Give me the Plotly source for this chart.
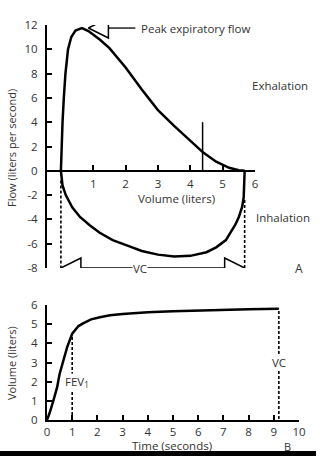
import plotly.graph_objects as go

# ---------------- data ----------------
# Panel A: flow-volume loop
exp_volume = [0, 0.02, 0.05, 0.09, 0.14, 0.22, 0.32, 0.45, 0.65, 0.85, 1.2, 1.5, 2.0, 2.5, 3.0, 3.5, 4.0, 4.4, 4.8, 5.2, 5.5, 5.68]
exp_flow = [0, 2.0, 4.0, 6.0, 8.0, 10.0, 11.0, 11.55, 11.75, 11.5, 10.8, 10.1, 8.5, 6.7, 5.0, 3.7, 2.5, 1.5, 0.75, 0.25, 0.05, 0]
insp_volume = [5.68, 5.67, 5.65, 5.6, 5.5, 5.4, 5.25, 5.1, 4.8, 4.5, 4.0, 3.5, 3.0, 2.5, 2.1, 1.6, 1.2, 0.9, 0.59, 0.35, 0.15, 0.05, 0]
insp_flow = [0, -1.2, -2.2, -3.0, -3.8, -4.4, -5.1, -5.7, -6.3, -6.7, -7.0, -7.05, -6.9, -6.6, -6.2, -5.7, -5.1, -4.5, -3.8, -3.0, -2.0, -1.2, 0]
vc_start, vc_end = 0.0, 5.68
vc_dash_top_flow = -2.4
peak_flow = 11.75
peak_arrow_volume = 0.85
marker_volume, marker_flow = 4.38, 4.0
flow_ticks = [-8, -6, -4, -2, 0, 2, 4, 6, 8, 10, 12]
volume_ticks_a = [1, 2, 3, 4, 5, 6]

# Panel B: volume-time curve
time_s = [0, 0.1, 0.25, 0.4, 0.5, 0.63, 0.8, 1.0, 1.25, 1.45, 1.75, 2.1, 2.5, 3.0, 3.4, 4.0, 5.0, 6.0, 7.0, 8.0, 9.2]
volume_l = [0, 0.35, 1.0, 1.7, 2.4, 3.0, 3.8, 4.5, 4.9, 5.05, 5.25, 5.36, 5.46, 5.53, 5.57, 5.62, 5.68, 5.72, 5.76, 5.78, 5.8]
fev1_time, fev1_volume = 1.0, 4.5
vc_time, vc_volume = 9.2, 5.8
time_ticks = list(range(0, 11))
volume_ticks_b = list(range(0, 7))

# ---------------- figure ----------------
W, H = 320, 465
def px(x):
    return x / W
def py(y):
    return 1 - y / H

FONT = "Open Sans"
TXT = "#333333"
fig = go.Figure()

line = dict(color="black", width=2.5)
dash_line = dict(color="black", width=1.6, dash="3px,2px")
head = dict(size=20, color="white", line=dict(color="black", width=1.5))

# Panel A traces
fig.add_trace(go.Scatter(x=exp_volume, y=exp_flow, mode="lines", line=line, xaxis="x", yaxis="y"))
fig.add_trace(go.Scatter(x=insp_volume, y=insp_flow, mode="lines", line=line, xaxis="x", yaxis="y"))
fig.add_trace(go.Scatter(x=[marker_volume, marker_volume], y=[0, marker_flow], mode="lines",
                         line=dict(color="black", width=1.5), xaxis="x", yaxis="y"))
fig.add_trace(go.Scatter(x=[vc_start, vc_start], y=[-0.8, flow_ticks[0]], mode="lines", line=dash_line, xaxis="x", yaxis="y"))
fig.add_trace(go.Scatter(x=[vc_end, vc_end], y=[vc_dash_top_flow, flow_ticks[0]], mode="lines", line=dash_line, xaxis="x", yaxis="y"))
# VC double arrow
fig.add_trace(go.Scatter(x=[vc_start + 0.4, vc_end - 0.4], y=[flow_ticks[0]] * 2, mode="lines",
                         line=dict(color="black", width=1.5), xaxis="x", yaxis="y"))
fig.add_trace(go.Scatter(x=[vc_start], y=[flow_ticks[0]], mode="markers",
                         marker=dict(symbol="arrow-left", **head), xaxis="x", yaxis="y"))
fig.add_trace(go.Scatter(x=[vc_end], y=[flow_ticks[0]], mode="markers",
                         marker=dict(symbol="arrow-right", **head), xaxis="x", yaxis="y"))
# Peak expiratory flow arrow
fig.add_trace(go.Scatter(x=[peak_arrow_volume + 0.6, 2.3], y=[peak_flow, peak_flow], mode="lines",
                         line=dict(color="black", width=1.3), xaxis="x", yaxis="y"))
fig.add_trace(go.Scatter(x=[peak_arrow_volume], y=[peak_flow], mode="markers",
                         marker=dict(symbol="arrow-left", **head), xaxis="x", yaxis="y"))

# Panel B traces
fig.add_trace(go.Scatter(x=time_s, y=volume_l, mode="lines", line=line, xaxis="x2", yaxis="y2"))
fig.add_trace(go.Scatter(x=[fev1_time, fev1_time], y=[0, fev1_volume], mode="lines", line=dash_line, xaxis="x2", yaxis="y2"))
fig.add_trace(go.Scatter(x=[vc_time, vc_time], y=[0.05, vc_volume], mode="lines", line=dash_line, xaxis="x2", yaxis="y2"))

tickfont = dict(family=FONT, size=11.5, color=TXT)
axis_common = dict(showline=True, linecolor="black", linewidth=2, ticks="inside", ticklen=5,
                   tickwidth=2, tickcolor="black", showgrid=False, zeroline=False, tickfont=tickfont,
                   automargin=False)

top_dom = [py(268), py(25)]
zero_pos = top_dom[0] + (0 - flow_ticks[0]) / (flow_ticks[-1] - flow_ticks[0]) * (top_dom[1] - top_dom[0])

fig.update_layout(
    template="none",
    width=W, height=H, margin=dict(l=0, r=0, t=0, b=0, pad=0, autoexpand=False),
    paper_bgcolor="white", plot_bgcolor="white", showlegend=False,
    xaxis=dict(domain=[px(47), px(255)], range=[-0.43, 6.0], anchor="free", position=zero_pos,
               tickvals=volume_ticks_a, ticktext=[str(v) for v in volume_ticks_a], ticklabelstandoff=2, **axis_common),
    yaxis=dict(domain=top_dom, range=[flow_ticks[0], flow_ticks[-1]], anchor="x",
               tickvals=flow_ticks, ticktext=[str(v) for v in flow_ticks], ticklabelstandoff=5, **axis_common),
    xaxis2=dict(domain=[px(47), px(299)], range=[0, 10], anchor="y2",
                tickvals=time_ticks, ticktext=[str(v) for v in time_ticks], ticklabelstandoff=0, **axis_common),
    yaxis2=dict(domain=[py(420), py(305)], range=[0, 6], anchor="x2",
                tickvals=volume_ticks_b, ticktext=[str(v) for v in volume_ticks_b], ticklabelstandoff=5, **axis_common),
)

small = dict(family=FONT, size=11.5, color=TXT)
ann = [
    dict(text="Peak expiratory flow", x=2.4, y=peak_flow, xref="x", yref="y", xanchor="left", font=small),
    dict(text="VC", x=2.45, y=flow_ticks[0], xref="x", yref="y", bgcolor="white", font=small, borderpad=0),
    dict(text="Exhalation", x=px(280), y=py(85), xref="paper", yref="paper", font=small),
    dict(text="Inhalation", x=px(283), y=py(218), xref="paper", yref="paper", font=small),
    dict(text="A", x=px(299), y=py(268), xref="paper", yref="paper", font=dict(family=FONT, size=12, color=TXT)),
    dict(text="Volume (liters)", x=px(176), y=py(198), xref="paper", yref="paper", font=small),
    dict(text="Flow (liters per second)", x=px(11), y=py(148), xref="paper", yref="paper", textangle=-90,
         font=dict(family=FONT, size=11, color=TXT)),
    dict(text="FEV<sub>1</sub>", x=1.2, y=2.0, xref="x2", yref="y2", bgcolor="white", font=small, borderpad=0),
    dict(text="VC", x=vc_time, y=3.0, xref="x2", yref="y2", bgcolor="white", font=small, borderpad=0),
    dict(text="Time (seconds)", x=px(172), y=py(445), xref="paper", yref="paper", font=small),
    dict(text="Volume (liters)", x=px(11), y=py(363), xref="paper", yref="paper", textangle=-90,
         font=dict(family=FONT, size=11, color=TXT)),
    dict(text="B", x=px(287), y=py(446), xref="paper", yref="paper", font=dict(family=FONT, size=11, color=TXT)),
]
for a in ann:
    a.setdefault("showarrow", False)
    a.setdefault("xanchor", "center")
    a.setdefault("yanchor", "middle")
fig.update_layout(annotations=ann)

fig.add_shape(type="rect", xref="paper", yref="paper", x0=0, x1=px(316), y0=py(456), y1=py(451),
              fillcolor="black", line=dict(width=0))

fig.write_html("out.html", config={"displayModeBar": False},
               post_script="document.body.style.margin='0';")
